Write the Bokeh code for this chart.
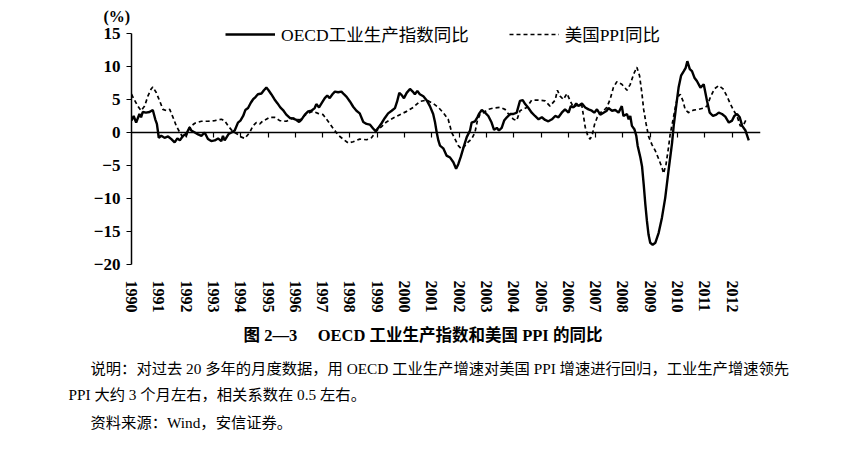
import math
from bokeh.plotting import figure
from bokeh.models import (FixedTicker, LinearAxis, Legend, LegendItem, Title,
                          ColumnDataSource, Range1d)
from bokeh.embed import file_html
from bokeh.resources import INLINE

# ---------------- data ----------------
oecd_t = [1990.00, 1990.08, 1990.17, 1990.29, 1990.35, 1990.41, 1990.53, 1990.66, 1990.78, 1990.87,
          1990.93, 1991.00, 1991.09, 1991.21, 1991.34, 1991.46, 1991.58, 1991.68, 1991.77, 1991.89,
          1992.01, 1992.13, 1992.19, 1992.32, 1992.44, 1992.56, 1992.68, 1992.80, 1992.92, 1993.05,
          1993.17, 1993.29, 1993.35, 1993.41, 1993.47, 1993.56, 1993.66, 1993.78, 1993.90, 1993.99,
          1994.09, 1994.17, 1994.27, 1994.37, 1994.45, 1994.55, 1994.63, 1994.76, 1994.85, 1994.94,
          1995.02, 1995.12, 1995.24, 1995.35, 1995.45, 1995.55, 1995.67, 1995.80, 1995.92, 1996.04,
          1996.14, 1996.22, 1996.35, 1996.47, 1996.59, 1996.71, 1996.77, 1996.87, 1996.96, 1997.08,
          1997.17, 1997.26, 1997.36, 1997.45, 1997.57, 1997.69, 1997.78, 1997.88, 1998.00, 1998.12,
          1998.24, 1998.36, 1998.49, 1998.61, 1998.73, 1998.85, 1998.94, 1999.04, 1999.16, 1999.28,
          1999.40, 1999.53, 1999.65, 1999.73, 1999.81, 1999.89, 1999.98, 2000.08, 2000.20, 2000.30,
          2000.38, 2000.47, 2000.56, 2000.69, 2000.81, 2000.93, 2001.05, 2001.12, 2001.18, 2001.24,
          2001.30, 2001.42, 2001.54, 2001.67, 2001.79, 2001.89, 2001.97, 2002.06, 2002.16, 2002.28,
          2002.40, 2002.46, 2002.58, 2002.67, 2002.74, 2002.83, 2002.95, 2003.07, 2003.19, 2003.28,
          2003.38, 2003.46, 2003.56, 2003.65, 2003.75, 2003.87, 2003.99, 2004.11, 2004.23, 2004.33,
          2004.42, 2004.54, 2004.66, 2004.78, 2004.91, 2005.03, 2005.15, 2005.27, 2005.40, 2005.52,
          2005.64, 2005.76, 2005.88, 2006.01, 2006.09, 2006.19, 2006.29, 2006.37, 2006.50, 2006.62,
          2006.74, 2006.86, 2006.95, 2007.05, 2007.17, 2007.29, 2007.41, 2007.47, 2007.60, 2007.72,
          2007.84, 2007.96, 2008.02, 2008.15, 2008.21, 2008.27, 2008.33, 2008.42, 2008.49, 2008.54,
          2008.64, 2008.70, 2008.76, 2008.82, 2008.88, 2008.94, 2009.00, 2009.09, 2009.19, 2009.31,
          2009.43, 2009.55, 2009.67, 2009.80, 2009.86, 2009.96, 2010.04, 2010.13, 2010.23, 2010.30,
          2010.36, 2010.45, 2010.53, 2010.62, 2010.71, 2010.84, 2010.96, 2011.08, 2011.18, 2011.30,
          2011.42, 2011.51, 2011.63, 2011.75, 2011.88, 2012.00, 2012.08, 2012.18, 2012.28, 2012.37,
          2012.49, 2012.61]
oecd_v = [1.8, 2.5, 1.5, 2.8, 2.3, 3.1, 3.0, 3.1, 3.4, 2.0,
          1.3, -0.8, -0.5, -0.8, -0.6, -1.0, -1.5, -0.9, -1.2, -0.5,
          -0.2, 0.8, 0.3, 0.0, -0.3, -0.5, 0.0, -1.0, -1.3, -1.2,
          -0.9, -1.3, -0.5, -1.2, -0.8, -0.2, 0.0, 0.3, 1.5, 1.8,
          2.5, 3.4, 3.7, 4.5, 5.0, 5.4, 5.8, 5.9, 6.4, 6.8,
          6.4, 5.8, 5.0, 4.4, 3.8, 3.4, 2.7, 2.2, 2.1, 1.9,
          1.6, 1.9, 2.7, 3.2, 3.3, 3.7, 4.3, 3.8, 4.4, 5.2,
          5.6, 5.2, 5.8, 6.2, 6.1, 6.2, 5.8, 5.4, 4.7, 3.9,
          3.3, 2.9, 1.6, 1.3, 1.2, 0.6, 0.2, 0.7, 1.4, 2.2,
          2.9, 3.3, 3.7, 4.7, 6.0, 5.7, 5.2, 6.0, 6.6, 6.2,
          5.8, 6.3, 5.8, 5.5, 4.9, 4.0, 2.8, 1.5, 0.0, -1.2,
          -2.0, -2.4, -3.5, -3.8, -4.5, -5.5, -4.8, -3.7, -2.3, -0.7,
          0.3, 1.5, 1.7, 2.3, 2.9, 3.4, 3.0, 2.5, 1.5, 0.4,
          0.7, 0.3, 0.7, 1.8, 2.3, 2.8, 2.8, 3.0, 4.8, 4.9,
          4.3, 3.7, 3.0, 2.5, 2.0, 2.3, 1.9, 1.7, 2.0, 2.5,
          2.3, 3.0, 3.5, 3.0, 4.0, 3.8, 4.4, 4.0, 4.4, 3.8,
          3.5, 3.3, 3.0, 3.5, 2.7, 3.0, 3.3, 3.7, 3.3, 3.4,
          3.0, 4.0, 2.5, 2.8, 2.0, 2.5, 1.0, 0.5, -0.5, -2.0,
          -3.8, -5.1, -7.8, -10.8, -13.4, -15.5, -16.7, -17.0, -16.7, -15.2,
          -12.9, -9.9, -5.8, -1.6, 1.0, 4.3, 6.8, 8.6, 9.3, 9.8,
          10.8, 9.6, 9.3, 8.3, 7.8, 6.8, 7.3, 4.8, 3.0, 2.5,
          2.7, 3.0, 2.8, 2.4, 1.5, 1.8, 2.5, 2.8, 2.3, 1.0,
          0.3, -1.2]

ppi_t = [1990.00, 1990.11, 1990.23, 1990.35, 1990.48, 1990.60, 1990.72, 1990.78, 1990.90, 1991.03,
         1991.15, 1991.28, 1991.40, 1991.52, 1991.64, 1991.77, 1991.89, 1992.01, 1992.13, 1992.32,
         1992.56, 1992.80, 1993.05, 1993.29, 1993.41, 1993.54, 1993.66, 1993.78, 1993.90, 1994.03,
         1994.15, 1994.33, 1994.45, 1994.57, 1994.70, 1994.82, 1994.94, 1995.06, 1995.24, 1995.43,
         1995.67, 1995.92, 1996.16, 1996.41, 1996.65, 1996.83, 1997.02, 1997.20, 1997.39, 1997.57,
         1997.75, 1997.94, 1998.12, 1998.36, 1998.61, 1998.79, 1998.97, 1999.16, 1999.34, 1999.59,
         1999.83, 2000.08, 2000.32, 2000.56, 2000.81, 2001.05, 2001.24, 2001.42, 2001.60, 2001.73,
         2001.85, 2001.97, 2002.09, 2002.22, 2002.34, 2002.46, 2002.58, 2002.67, 2002.77, 2002.89,
         2003.07, 2003.26, 2003.50, 2003.68, 2003.81, 2003.99, 2004.11, 2004.23, 2004.48, 2004.66,
         2004.91, 2005.15, 2005.33, 2005.52, 2005.60, 2005.70, 2005.82, 2005.95, 2006.07, 2006.19,
         2006.37, 2006.50, 2006.62, 2006.72, 2006.80, 2006.88, 2006.96, 2007.06, 2007.17, 2007.29,
         2007.41, 2007.53, 2007.65, 2007.78, 2007.96, 2008.15, 2008.27, 2008.39, 2008.51, 2008.61,
         2008.70, 2008.76, 2008.85, 2008.94, 2009.06, 2009.19, 2009.31, 2009.43, 2009.49, 2009.58,
         2009.67, 2009.73, 2009.83, 2009.92, 2010.00, 2010.10, 2010.20, 2010.28, 2010.40, 2010.59,
         2010.77, 2010.96, 2011.08, 2011.20, 2011.35, 2011.51, 2011.67, 2011.81, 2011.94, 2012.06,
         2012.18, 2012.30, 2012.40, 2012.52]
ppi_v = [5.8, 4.9, 4.0, 3.3, 4.0, 5.5, 6.6, 6.9, 6.1, 4.8,
         3.5, 3.3, 3.5, 2.3, 1.0, 0.0, -0.8, -0.5, 0.8, 1.4,
         1.7, 1.7, 1.8, 2.0, 1.8, 1.0, 0.4, 0.0, -0.3, -0.7,
         -0.9, 0.0, 1.0, 1.5, 1.3, 1.8, 2.0, 2.3, 2.3, 1.8,
         1.7, 2.2, 1.9, 2.8, 3.2, 2.9, 2.7, 1.7, 0.6, -0.4,
         -1.0, -1.6, -1.4, -1.0, -1.1, -0.8, 0.2, 0.9, 1.6, 2.2,
         2.7, 3.2, 3.8, 4.7, 4.9, 4.4, 3.8, 3.0, 2.0, 0.0,
         -1.0, -2.0, -2.5, -2.0, -1.4, -1.0, 0.0, 1.8, 2.8, 3.0,
         3.5, 3.7, 3.8, 3.5, 2.8, 2.0, 1.8, 3.3, 3.8, 4.9,
         4.9, 4.8, 4.0, 4.9, 6.4, 5.5, 5.0, 5.9, 4.8, 3.8,
         4.3, 4.0, 0.8, -0.6, -1.0, -0.3, 1.2, 2.3, 3.0, 3.3,
         3.8, 5.0, 6.8, 7.7, 7.3, 6.4, 7.3, 8.8, 9.9, 8.6,
         5.8, 3.5, 1.3, -0.6, -1.8, -2.8, -4.0, -5.3, -6.2, -4.8,
         -2.3, -0.3, 1.8, 3.8, 5.3, 5.8, 4.8, 3.5, 3.0, 3.4,
         3.5, 3.7, 4.0, 5.3, 6.6, 7.1, 6.6, 5.5, 4.3, 3.3,
         2.5, 1.0, 1.0, 2.0]

years = list(range(1990, 2013))
year_labels = [str(y) for y in years]
y_ticks = [-20, -15, -10, -5, 0, 5, 10, 15]
y_tick_labels = ["−20", "−15", "−10", "−5", "0", "5", "10", "15"]

series_names = ["OECD工业生产指数同比", "美国PPI同比"]
unit_label = "(%)"
caption = "图 2—3\u3000 OECD 工业生产指数和美国 PPI 的同比"
note_lines = ["说明：对过去 20 多年的月度数据，用 OECD 工业生产增速对美国 PPI 增速进行回归，工业生产增速领先",
              "PPI 大约 3 个月左右，相关系数在 0.5 左右。",
              "资料来源：Wind，安信证券。"]

# ---------------- styles ----------------
NUM_FONT = "Liberation Serif"
CJK_FONT = "Liberation Serif, Noto Sans CJK SC"

p = figure(frame_width=629, frame_height=240, output_backend="svg", toolbar_location=None,
           x_range=Range1d(1990, 2013.04), y_range=Range1d(-20, 16.36),
           min_border_left=131, min_border_right=85, min_border_top=24, min_border_bottom=186)
p.outline_line_color = None
p.xgrid.visible = False
p.ygrid.visible = False
p.background_fill_color = "white"

src_o = ColumnDataSource(dict(t=oecd_t, v=oecd_v))
src_p = ColumnDataSource(dict(t=ppi_t, v=ppi_v))
r_p = p.line("t", "v", source=src_p, line_color="black", line_width=1.7, line_dash="4 3")
r_o = p.line("t", "v", source=src_o, line_color="black", line_width=2.4)

# y axis
ya = p.yaxis[0]
ya.ticker = FixedTicker(ticks=y_ticks)
ya.bounds = (y_ticks[0], y_ticks[-1])
ya.major_label_overrides = dict(zip(y_ticks, y_tick_labels))
ya.axis_line_width = 1.5
ya.axis_line_color = "black"
ya.major_tick_out = 5
ya.major_tick_in = 0
ya.major_tick_line_width = 1.2
ya.minor_tick_line_color = None
ya.major_label_standoff = 6
ya.major_label_text_font = NUM_FONT
ya.major_label_text_font_size = "17px"
ya.major_label_text_font_style = "bold"
ya.major_label_text_color = "black"

# x axis: labels only, at the bottom
xa = p.xaxis[0]
xa.ticker = FixedTicker(ticks=years)
xa.major_label_overrides = dict(zip(years, year_labels))
xa.axis_line_color = None
xa.major_tick_line_color = None
xa.minor_tick_line_color = None
xa.major_tick_out = 0
xa.major_tick_in = 0
xa.major_label_orientation = -math.pi / 2
xa.major_label_standoff = 16
xa.major_label_text_font = NUM_FONT
xa.major_label_text_font_size = "16px"
xa.major_label_text_font_style = "bold"
xa.major_label_text_color = "black"

legend = Legend(items=[LegendItem(label=series_names[0], renderers=[r_o]),
                       LegendItem(label=series_names[1], renderers=[r_p])],
                orientation="horizontal", location=(94, 218),
                glyph_width=50, glyph_height=16, label_height=16, label_standoff=6,
                spacing=40, padding=0, margin=0, border_line_color=None,
                background_fill_alpha=0, label_text_font=CJK_FONT,
                label_text_font_size="17.5px", label_text_color="black")
p.add_layout(legend, "center")

p.add_layout(Title(text=unit_label, align="left", offset=-28, standoff=0,
                   vertical_align="bottom", text_font=NUM_FONT, text_font_size="16px",
                   text_font_style="bold", text_color="black"), "above")

# caption and notes below the chart
p.add_layout(Title(text=caption, align="left", offset=112, standoff=18, vertical_align="middle",
                   text_font=CJK_FONT, text_font_size="16.5px", text_font_style="bold",
                   text_color="black"), "below")
note_offsets = [-41, -63, -41]
note_standoffs = [9, 5, 13]
for txt, off, so in zip(note_lines, note_offsets, note_standoffs):
    p.add_layout(Title(text=txt, align="left", offset=off, standoff=so, vertical_align="middle",
                       text_font=CJK_FONT, text_font_size="15.3px", text_font_style="normal",
                       text_color="black"), "below")

# zero line with year ticks (drawn at y = 0)
za = LinearAxis(fixed_location=0, ticker=FixedTicker(ticks=years[1:]))
za.axis_line_width = 1.5
za.axis_line_color = "black"
za.major_tick_out = 5
za.major_tick_in = 0
za.major_tick_line_width = 1.2
za.minor_tick_line_color = None
za.major_label_text_color = None
za.major_label_text_font_size = "1px"
za.major_label_standoff = 0
p.add_layout(za, "below")

open("out.html", "w").write(file_html(p, INLINE))
